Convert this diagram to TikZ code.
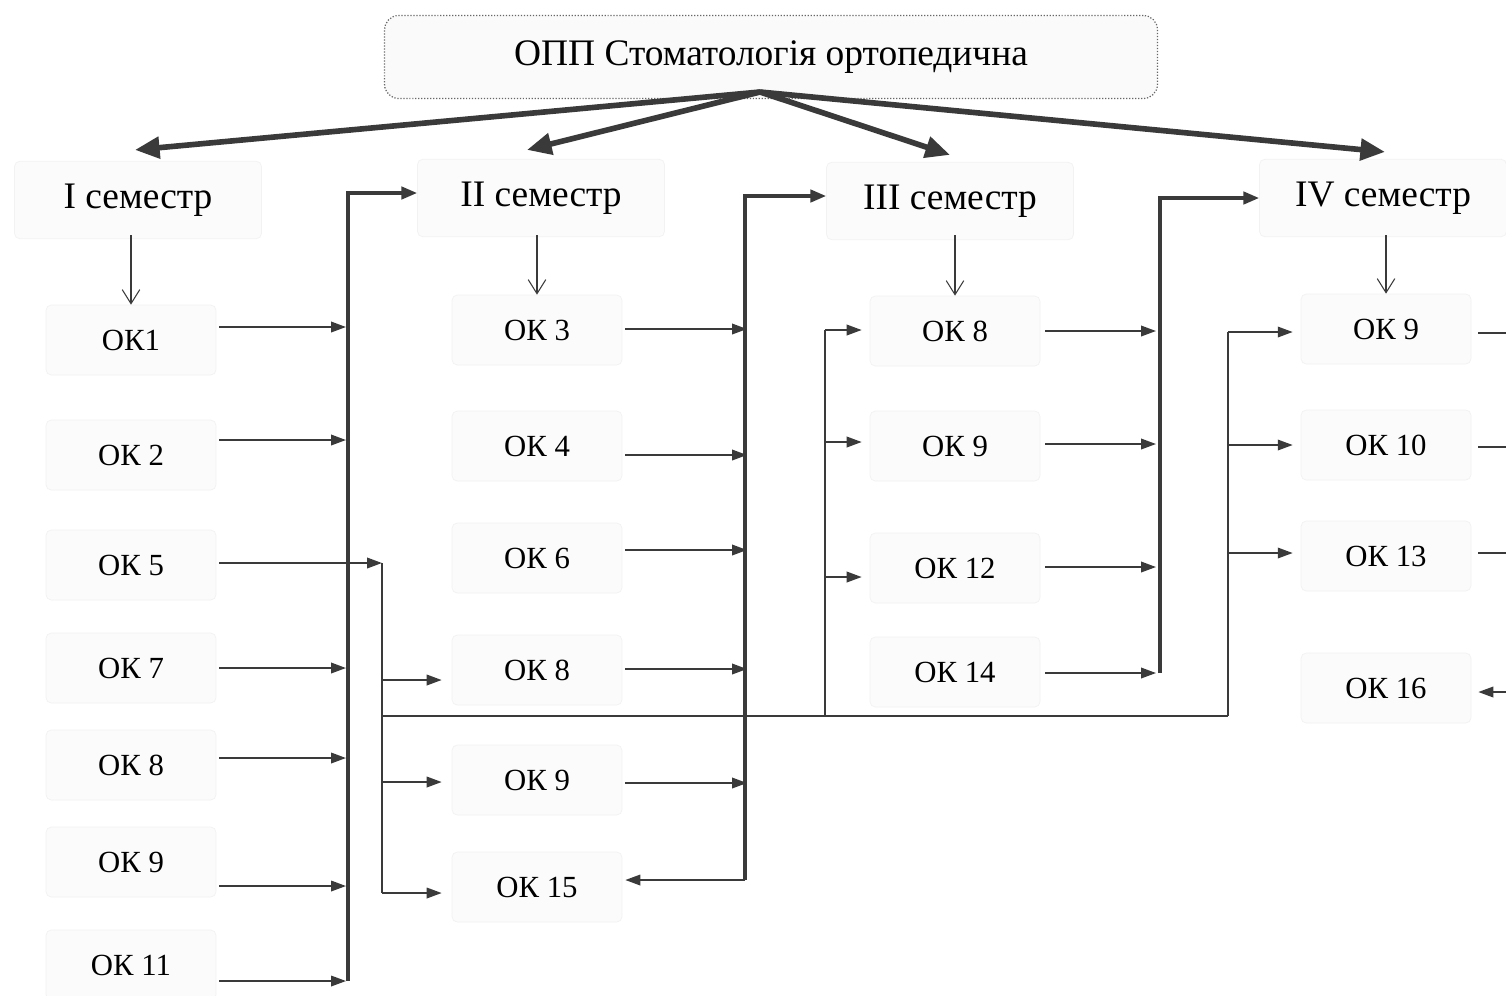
\documentclass[tikz,border=0pt]{standalone}
\usepackage{fontspec}
\setmainfont{Liberation Serif}
\usetikzlibrary{arrows.meta,calc}
\definecolor{ln}{RGB}{58,58,58}
\begin{document}
\begin{tikzpicture}[x=0.02cm,y=-0.02cm,
 box/.style={fill=black!1.5,draw=black!5,rounded corners=3pt,inner sep=0pt},
 titlebox/.style={draw=black!60,densely dotted,line width=0.7pt,rounded corners=8pt,fill=black!2,minimum width=15.46cm,minimum height=1.66cm,inner sep=0pt,font=\fontsize{21.3}{25}\selectfont},
 sembox/.style={box,minimum width=4.94cm,minimum height=1.55cm,font=\fontsize{21.3}{25}\selectfont},
 okbox/.style={box,minimum width=3.4cm,minimum height=1.4cm,font=\fontsize{17.5}{21}\selectfont},
 big/.style={ln,line width=3.2pt,-{Triangle[length=14pt,width=12pt]}},
 bus/.style={ln,line width=2pt},
 busarr/.style={bus,-{Triangle[length=9pt,width=7pt]}},
 thin/.style={ln,line width=1pt,-{Triangle[length=8.5pt,width=6pt]}},
 plain/.style={ln,line width=1pt},
 down/.style={ln,line width=0.6pt,-{Straight Barb[length=8pt,width=10pt]}}]

\fill[white] (0,0) rectangle (1506,995);
\useasboundingbox (0,0) rectangle (1506,995);

% title and semesters
\node[titlebox] (t) at (771,57) {ОПП Стоматологія ортопедична};
\node[sembox] (s1) at (138,200) {I семестр};
\node[sembox] (s2) at (541,198) {II семестр};
\node[sembox] (s3) at (950,201) {III семестр};
\node[sembox] (s4) at (1383,198) {IV семестр};

% column 1
\node[okbox] (a1) at (131,340) {ОК1};
\node[okbox] (a2) at (131,455) {ОК 2};
\node[okbox] (a5) at (131,565) {ОК 5};
\node[okbox] (a7) at (131,668) {ОК 7};
\node[okbox] (a8) at (131,765) {ОК 8};
\node[okbox] (a9) at (131,862) {ОК 9};
\node[okbox] (a11) at (131,965) {ОК 11};

% column 2
\node[okbox] (b3) at (537,330) {ОК 3};
\node[okbox] (b4) at (537,446) {ОК 4};
\node[okbox] (b6) at (537,558) {ОК 6};
\node[okbox] (b8) at (537,670) {ОК 8};
\node[okbox] (b9) at (537,780) {ОК 9};
\node[okbox] (b15) at (537,887) {ОК 15};

% column 3
\node[okbox] (d8) at (955,331) {ОК 8};
\node[okbox] (d9) at (955,446) {ОК 9};
\node[okbox] (d12) at (955,568) {ОК 12};
\node[okbox] (d14) at (955,672) {ОК 14};

% column 4
\node[okbox] (e9) at (1386,329) {ОК 9};
\node[okbox] (e10) at (1386,445) {ОК 10};
\node[okbox] (e13) at (1386,556) {ОК 13};
\node[okbox] (e16) at (1386,688) {ОК 16};

% title arrows
\coordinate (hub) at (760,92);
\draw[big] (hub) -- ($(s1.north)+(-3,-11)$);
\draw[big] (hub) -- ($(s2.north)+(-14,-9)$);
\draw[big] (hub) -- ($(s3.north)+(0,-7)$);
\draw[big] (hub) -- ($(s4.north)+(2,-7)$);

% semester down arrows
\draw[down] ($(s1.south -| a1)+(0,-4)$) -- (a1.north);
\draw[down] ($(s2.south -| b3)+(0,-2)$) -- (b3.north);
\draw[down] ($(s3.south -| d8)+(0,-5)$) -- (d8.north);
\draw[down] ($(s4.south -| e9)+(0,-2)$) -- (e9.north);

% bus 1
\coordinate (bA) at (348,981);
\draw[busarr] (bA) |- ($(s2.west)+(0,-5)$);
\foreach \n/\d in {a1/-13,a2/-15,a7/0,a8/-7,a9/24,a11/16}
  \draw[thin] ($(\n.east)+(3,\d)$) -- ($(\n.east -| bA)+(-2,\d)$);

% OK5 distribution
\coordinate (c5) at (382,563);
\coordinate (c5b) at (382,893);
\draw[thin] ($(a5.east)+(3,-2)$) -- (c5);
\draw[plain] (c5) -- (c5b);
\draw[thin] ($(c5 |- b8.west)+(0,10)$) -- ($(b8.west)+(-10,10)$);
\draw[thin] ($(c5 |- b9.west)+(0,2)$) -- ($(b9.west)+(-10,2)$);
\draw[thin] (c5b) -- ($(b15.west)+(-10,6)$);

\coordinate (h0) at (382,716);
\coordinate (h3) at (825,716);
\coordinate (h4) at (1228,716);
\draw[plain] (h0) -- (h4);
\draw[plain] (h3) -- ($(h3 |- d8)+(0,-1)$);
\draw[thin] ($(h3 |- d8)+(0,-1)$) -- ($(d8.west)+(-8,-1)$);
\draw[thin] ($(h3 |- d9)+(0,-4)$) -- ($(d9.west)+(-8,-4)$);
\draw[thin] ($(h3 |- d12)+(0,9)$) -- ($(d12.west)+(-8,9)$);
\draw[plain] (h4) -- ($(h4 |- e9)+(0,3)$);
\draw[thin] ($(h4 |- e9)+(0,3)$) -- ($(e9.west)+(-8,3)$);
\draw[thin] ($(h4 |- e10)+(0,0)$) -- ($(e10.west)+(-8,0)$);
\draw[thin] ($(h4 |- e13)+(0,-3)$) -- ($(e13.west)+(-8,-3)$);

% bus 2
\coordinate (bB) at (745,880);
\draw[busarr] (bB) |- ($(s3.west)+(0,-5)$);
\foreach \n/\d in {b3/-1,b4/9,b6/-8,b8/-1,b9/3}
  \draw[thin] ($(\n.east)+(3,\d)$) -- ($(\n.east -| bB)+(2,\d)$);
\draw[thin] (bB) -- ($(b15.east)+(3,-7)$);

% bus 3
\coordinate (bC) at (1160,673);
\draw[busarr] (bC) |- ($(s4.west)+(0,0)$);
\foreach \n/\d in {d8/0,d9/-2,d12/-1,d14/1}
  \draw[thin] ($(\n.east)+(5,\d)$) -- ($(\n.east -| bC)+(-4,\d)$);

% right edge
\coordinate (edge) at (1506,0);
\foreach \n/\d in {e9/4,e10/2,e13/-3}
  \draw[plain] ($(\n.east)+(7,\d)$) -- ($(\n.east -| edge)+(0,\d)$);
\draw[thin] ($(e16.east -| edge)+(0,4)$) -- ($(e16.east)+(7,4)$);
\end{tikzpicture}
\end{document}
